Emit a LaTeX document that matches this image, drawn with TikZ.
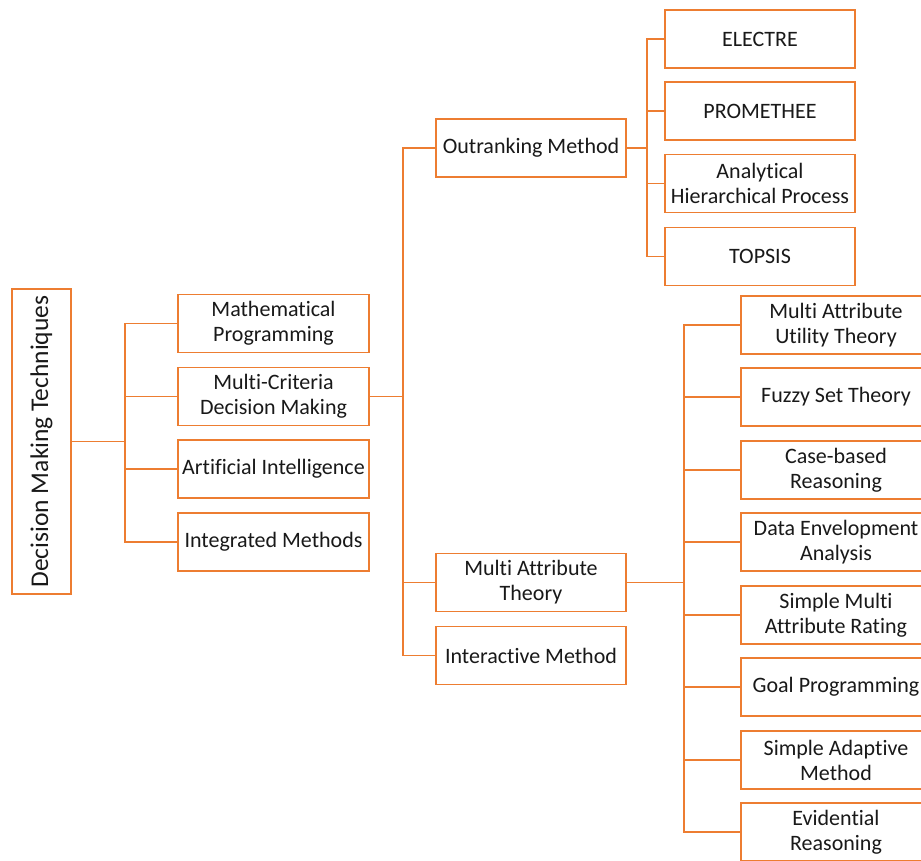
\documentclass[tikz,border=0pt]{standalone}
\usepackage{fontspec}
\setmainfont{Carlito}[Ligatures={NoCommon,NoContextual}, Contextuals=NoAlternate]
\usetikzlibrary{positioning}
\definecolor{dmorange}{RGB}{237,125,49}
\definecolor{dmtext}{RGB}{25,25,25}

\tikzset{
  item/.style={draw=dmorange, line width=1.8pt, fill=white, minimum width=190pt,
    minimum height=58pt, align=center, inner sep=2pt, text=dmtext,
    font=\fontsize{22}{25}\selectfont},
  link/.style={draw=dmorange, line width=1.8pt}
}

\begin{document}
\begin{tikzpicture}[x=1pt, y=-1pt]
        \useasboundingbox (0,0) rectangle (921,861);

        % root
        \node[item, rotate=90, minimum width=305pt, minimum height=59pt,
          font=\fontsize{25.5}{28}\selectfont] (dmt) at (41.5,441.5) {Decision Making Techniques};

        % first level
        \node[item, minimum width=191pt] (mp) at (273.5,323.5) {Mathematical\\Programming};
        \node[item, minimum width=191pt] (mcdm) at (273.5,396.5) {Multi-Criteria\\Decision Making};
        \node[item, minimum width=191pt] (ai) at (273.5,469) {Artificial Intelligence};
        \node[item, minimum width=191pt] (im) at (273.5,542) {Integrated Methods};

        % second level
        \node[item] (om) at (531,148) {Outranking Method};
        \node[item] (mat) at (531,582.5) {Multi Attribute\\Theory};
        \node[item] (inm) at (531,655.5) {Interactive Method};

        % outranking methods
        \node[item] (el) at (760,39) {ELECTRE};
        \node[item] (pr) at (760,111) {PROMETHEE};
        \node[item] (ahp) at (760,183.5) {Analytical\\Hierarchical Process};
        \node[item] (tp) at (760,256.5) {TOPSIS};

        % multi attribute methods
        \node[item] (maut) at (836,325) {Multi Attribute\\Utility Theory};
        \node[item] (fst) at (836,397) {Fuzzy Set Theory};
        \node[item] (cbr) at (836,470) {Case-based\\Reasoning};
        \node[item] (dea) at (836,542) {Data Envelopment\\Analysis};
        \node[item] (smart) at (836,615) {Simple Multi\\Attribute Rating};
        \node[item] (gp) at (836,687) {Goal Programming};
        \node[item] (sam) at (836,760) {Simple Adaptive\\Method};
        \node[item] (er) at (836,832) {Evidential\\Reasoning};

        % connectors
        \coordinate (j1) at (125,441.5);
        \coordinate (j2) at (403,396.5);
        \coordinate (j3) at (647,148);
        \coordinate (j4) at (684,582.5);

        \draw[link] (dmt.south) -- (j1);
        \foreach \n in {mp, mcdm, ai, im}
        \draw[link] (j1) |- (\n.west);

        \draw[link] (mcdm.east) -- (j2);
        \foreach \n in {om, mat, inm}
        \draw[link] (j2) |- (\n.west);

        \draw[link] (om.east) -- (j3);
        \foreach \n in {el, pr, ahp, tp}
        \draw[link] (j3) |- (\n.west);

        \draw[link] (mat.east) -- (j4);
        \foreach \n in {maut, fst, cbr, dea, smart, gp, sam, er}
        \draw[link] (j4) |- (\n.west);

\end{tikzpicture}
\end{document}
